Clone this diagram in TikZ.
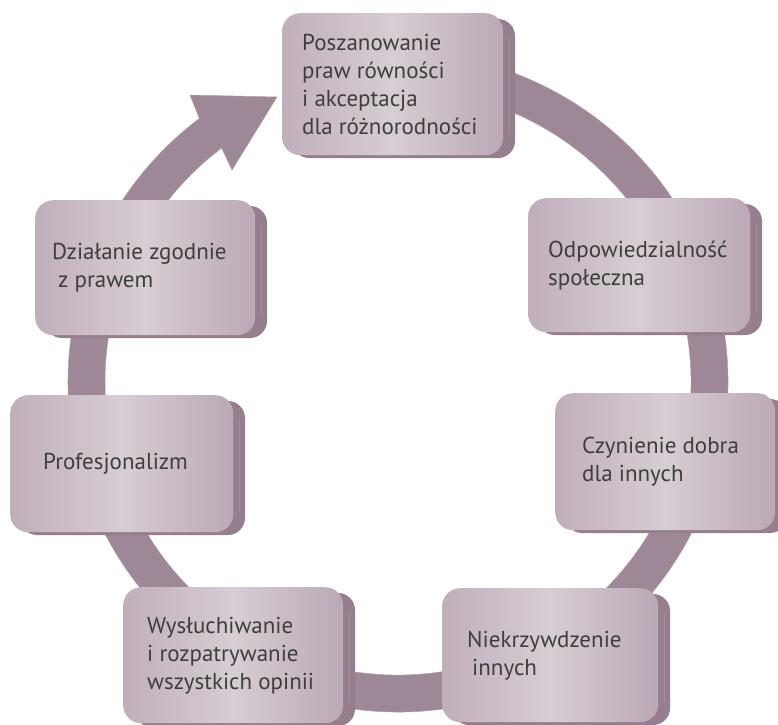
\documentclass[tikz,border=0pt]{standalone}
\usepackage{fontspec}
\setmainfont{PT Sans}
\usetikzlibrary{calc}
\definecolor{faceL}{RGB}{192,175,187}
\definecolor{faceM}{RGB}{215,205,212}
\definecolor{faceR}{RGB}{186,169,181}
\definecolor{ringc}{RGB}{158,135,151}
\definecolor{ringd}{RGB}{120,98,113}
\definecolor{sidec}{RGB}{150,126,142}
\definecolor{txtc}{RGB}{62,62,62}
\newcommand{\cyclebox}[7]{%
  \fill[sidec, rounded corners=17pt] (#2+10,#3+6) rectangle (#2+#4+12,#3+#5+3);
  \draw[ringd!70, line width=0.4pt] (#2+#4+6,#3+25) -- (#2+#4+6,#3+#5-20);
  \node[cbox, minimum width=#4, minimum height=#5, anchor=north west] (#1) at (#2,#3) {};
  \node[lbl, anchor=west] (#1t) at ($(#1.west)+(#6,0)$) {#7};
}
\begin{document}
\begin{tikzpicture}[x=1pt,y=-1pt,
  cbox/.style={rounded corners=18pt, left color=faceL, right color=faceR, middle color=faceM, inner sep=0pt, draw=none},
  lbl/.style={align=left, inner sep=0pt, text=txtc, font=\fontsize{23}{28}\selectfont},
  ring/.style={fill=ringc, draw=ringd!60, line width=0.5pt}]
\useasboundingbox (0,0) rectangle (778,724);
\coordinate (C) at (398,382);
\coordinate (ao) at ($(C)+(-127:330)$);
\coordinate (ai) at ($(C)+(-127:293)$);
\coordinate (w1) at (190,95);
\coordinate (w2) at (232,170);
\coordinate (tip) at (277,97);
\path[ring] (ao) arc[start angle=-127, end angle=-460, radius=330]
  -- ($(C)+(-460:293)$) arc[start angle=-460, end angle=-127, radius=293]
  -- (ai) -- (w2) -- (tip) -- (w1) -- cycle;
\cyclebox{b1}{282}{13}{221}{142}{20}{Poszanowanie\\praw równości\\i akceptacja\\dla różnorodności}
\cyclebox{b2}{528}{198}{222}{134}{20}{Odpowiedzialność\\społeczna}
\cyclebox{b3}{555}{393}{220}{137}{27}{Czynienie dobra\\dla innych}
\cyclebox{b4}{442}{588}{216}{134}{25}{Niekrzywdzenie\\\hspace*{5pt}innych}
\cyclebox{b5}{123}{587}{220}{136}{24}{Wysłuchiwanie\\i rozpatrywanie\\wszystkich opinii}
\cyclebox{b6}{10}{395}{223}{137}{33}{Profesjonalizm}
\cyclebox{b7}{35}{200}{220}{135}{17}{Działanie zgodnie\\\hspace*{6pt}z prawem}
\end{tikzpicture}
\end{document}
